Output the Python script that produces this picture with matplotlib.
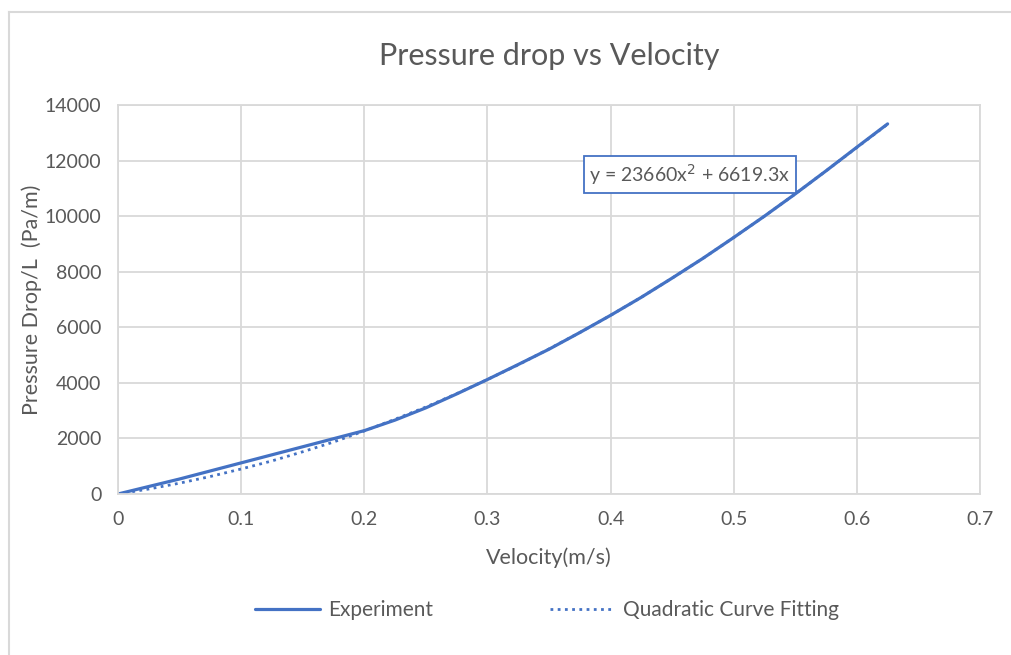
import matplotlib.pyplot as plt
from matplotlib.lines import Line2D

# Values
velocity = [0, 0.025, 0.05, 0.075, 0.1, 0.125, 0.15, 0.175, 0.2, 0.225, 0.25,
            0.275, 0.3, 0.325, 0.35, 0.375, 0.4, 0.425, 0.45, 0.475, 0.5,
            0.525, 0.55, 0.575, 0.6, 0.625]
experiment = [0, 270, 540, 830, 1120, 1410, 1700, 1990, 2280, 2660, 3100,
              3600, 4120, 4660, 5210, 5810, 6430, 7080, 7770, 8480, 9230,
              10000, 10800, 11630, 12480, 13320]
quad_fit = [0, 180, 390, 630, 900, 1190, 1520, 1870, 2270, 2690, 3130,
            3610, 4120, 4650, 5220, 5810, 6430, 7080, 7770, 8480, 9230,
            10000, 10800, 11630, 12470, 13310]

x_ticks = [0, 0.1, 0.2, 0.3, 0.4, 0.5, 0.6, 0.7]
x_tick_labels = ['0', '0.1', '0.2', '0.3', '0.4', '0.5', '0.6', '0.7']
y_ticks = [0, 2000, 4000, 6000, 8000, 10000, 12000, 14000]

equation = 'y = 23660x$^2$ + 6619.3x'

BLUE = '#4472C4'
GRID = '#D9D9D9'
TEXT = '#595959'

plt.rcParams['font.family'] = ['Lato', 'DejaVu Sans']

fig = plt.figure(figsize=(10.11, 6.55), dpi=100)
ax = fig.add_axes([0.1167, 0.2458, 0.8526, 0.5939])

ax.plot(velocity, experiment, color=BLUE, linewidth=2.3, label='Experiment',
        solid_capstyle='round')
ax.plot(velocity, quad_fit, color=BLUE, linewidth=2, linestyle=(0, (1, 1.6)),
        label='Quadratic Curve Fitting')

ax.set_xlim(0, 0.7)
ax.set_ylim(0, 14000)
ax.set_xticks(x_ticks)
ax.set_xticklabels(x_tick_labels)
ax.set_yticks(y_ticks)
ax.grid(True, color=GRID, linewidth=1.3)
ax.set_axisbelow(True)
for s in ax.spines.values():
    s.set_color(GRID)
    s.set_linewidth(1.3)
ax.tick_params(length=0, labelsize=14, colors=TEXT, pad=12)

ax.set_title('Pressure drop vs Velocity', fontsize=22, color=TEXT, pad=29)
ax.set_xlabel('Velocity(m/s)', fontsize=15.5, color=TEXT, labelpad=14)
ax.set_ylabel('Pressure Drop/L  (Pa/m)', fontsize=15.5, color=TEXT, labelpad=2)

ax.text(0.4645, 11500, equation, fontsize=14, color=TEXT, ha='center', va='center',
        bbox=dict(boxstyle='square,pad=0.3', facecolor='white', edgecolor=BLUE,
                  linewidth=1.3))

fig.legend(loc='center', bbox_to_anchor=(0.541, 0.069), ncol=2, frameon=False,
           fontsize=15, handlelength=3.1, handletextpad=0.4, columnspacing=5.6,
           labelcolor=TEXT)

# outer chart frame
fig.add_artist(Line2D([9 / 1011, 1], [1 - 12 / 655, 1 - 12 / 655],
                      transform=fig.transFigure, color=GRID, linewidth=1.5))
fig.add_artist(Line2D([9 / 1011, 9 / 1011], [0, 1 - 12 / 655],
                      transform=fig.transFigure, color=GRID, linewidth=1.5))

fig.savefig('out.png', dpi=100)
